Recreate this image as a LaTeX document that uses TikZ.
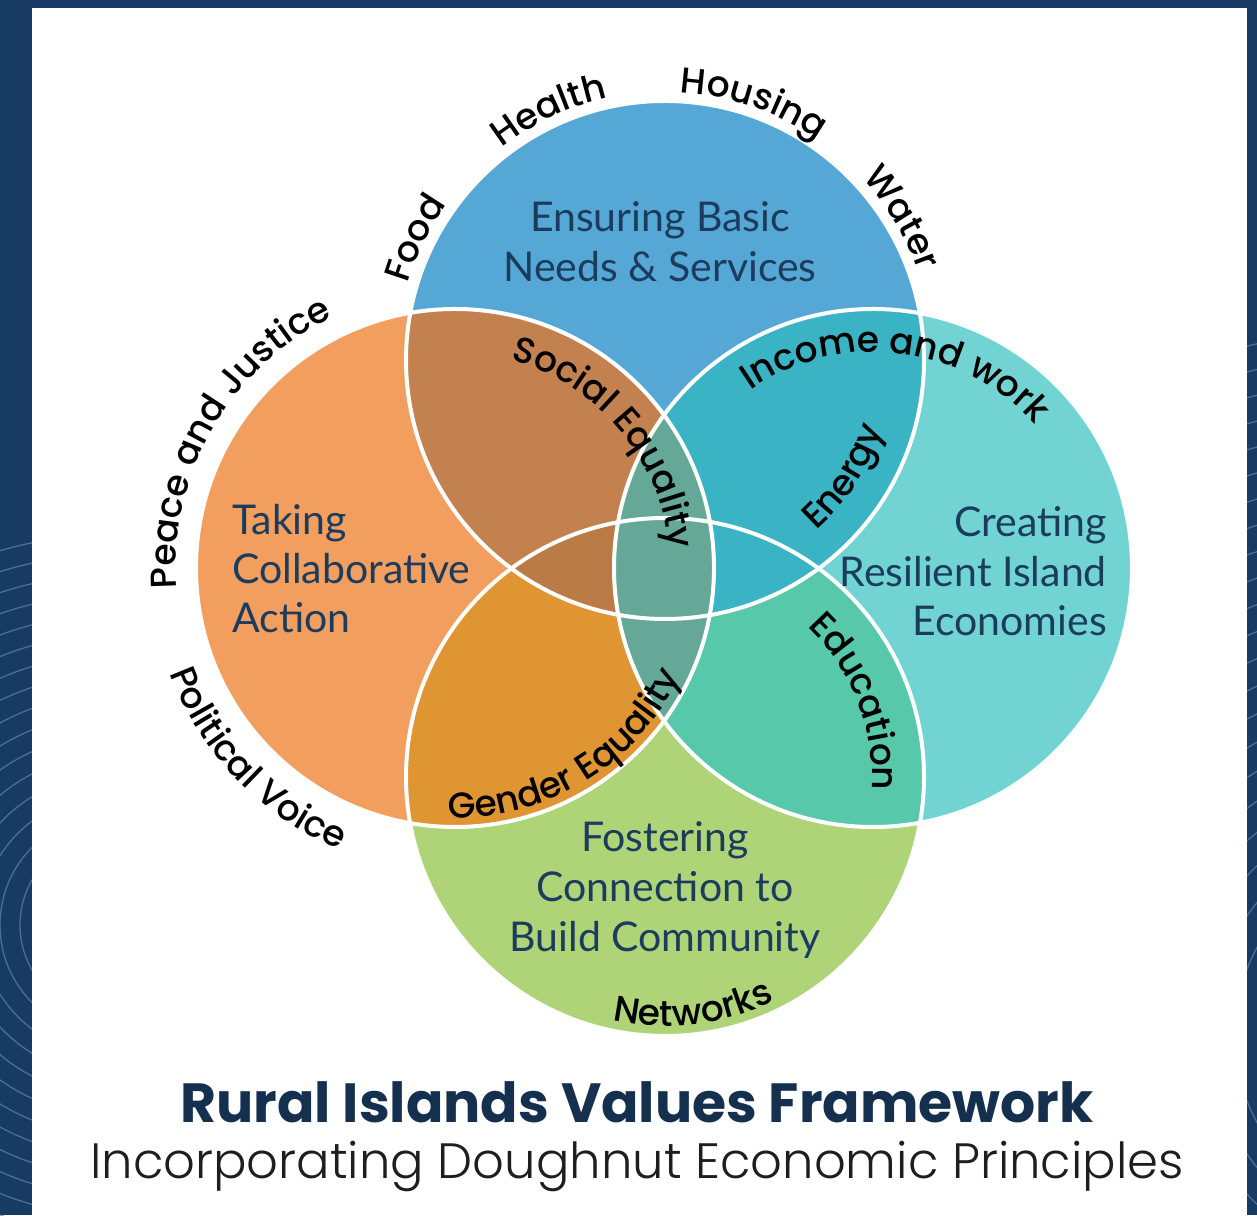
\documentclass[tikz,border=0pt]{standalone}
\usepackage{fontspec}
\setmainfont{Lato}
\newfontfamily\popfam{Poppins}
\newfontfamily\popmed{Poppins Medium}
\newfontfamily\poplight{Poppins Light}
\usetikzlibrary{calc,decorations.text}
\definecolor{navy}{HTML}{173B63}
\definecolor{swirl}{HTML}{5B7BA0}
\definecolor{cT}{HTML}{55A7D5}
\definecolor{cL}{HTML}{F29E5F}
\definecolor{cR}{HTML}{72D4D2}
\definecolor{cB}{HTML}{AED477}
\definecolor{cTL}{HTML}{C2814F}
\definecolor{cTLB}{HTML}{BA7B47}
\definecolor{cTR}{HTML}{3AB3C4}
\definecolor{cLB}{HTML}{DF9532}
\definecolor{cRB}{HTML}{58C8AB}
\definecolor{cLR}{HTML}{66A898}
\definecolor{ink}{HTML}{1C3C5E}
\definecolor{titleink}{HTML}{14304E}
\definecolor{subink}{HTML}{1E1E1E}
\newcommand{\curvefont}{\popmed\fontsize{36}{36}\selectfont}
\newcommand{\curvelabel}[5]{%
  \path[decorate, decoration={text along path, text align=center, text={|\curvefont|#5}}]
    ($(#1)+(#3:#2)$) arc[start angle=#3, end angle=#4, radius=#2];}
\tikzset{
  inner/.style={font=\fontsize{41}{41}\selectfont, text=ink, inner sep=0pt},
  rim/.style={draw=white, line width=4pt},
  swirlline/.style={draw=swirl, line width=1.3pt, opacity=0.8}
}
\begin{document}
\begin{tikzpicture}[x=1pt,y=1pt]
\useasboundingbox (0,0) rectangle (1257,1215);
\fill[navy] (0,0) rectangle (1257,1215);
% border swirls
\begin{scope}
  \clip (0,0) rectangle (32,675);
  \foreach \r in {30,50,...,450} \draw[swirlline] (110,290) circle (\r);
\end{scope}
\begin{scope}
  \clip (1247,0) rectangle (1257,875);
  \foreach \r in {160,185,...,1000} \draw[swirlline] (1420,180) circle (\r);
\end{scope}
\fill[white] (32,0) rectangle (1247,1207);
% circle centres
\coordinate (T) at (665,855);
\coordinate (L) at (455,647);
\coordinate (R) at (873,647);
\coordinate (B) at (665,438);
\def\rad{259}
% base fills
\fill[cT] (T) circle (\rad);
\fill[cL] (L) circle (\rad);
\fill[cR] (R) circle (\rad);
\fill[cB] (B) circle (\rad);
% overlaps
\begin{scope}\clip (T) circle (\rad); \fill[cTL] (L) circle (\rad); \end{scope}
\begin{scope}\clip (T) circle (\rad); \fill[cTR] (R) circle (\rad); \end{scope}
\begin{scope}\clip (L) circle (\rad); \fill[cLB] (B) circle (\rad); \end{scope}
\begin{scope}\clip (R) circle (\rad); \fill[cRB] (B) circle (\rad); \end{scope}
\begin{scope}\clip (T) circle (\rad); \clip (L) circle (\rad); \fill[cTLB] (B) circle (\rad); \end{scope}
\begin{scope}\clip (T) circle (\rad); \clip (R) circle (\rad); \fill[cTR] (B) circle (\rad); \end{scope}
\begin{scope}\clip (L) circle (\rad); \fill[cLR] (R) circle (\rad); \end{scope}
% white rims
\draw[rim] (T) circle (\rad);
\draw[rim] (L) circle (\rad);
\draw[rim] (R) circle (\rad);
\draw[rim] (B) circle (\rad);
% inner texts
\node[inner, anchor=base] (t1) at (660,983) {Ensuring Basic};
\node[inner, anchor=base] (t2) at (660,933) {Needs \& Services};
\node[inner, anchor=base west] (l1) at (232,680) {Taking};
\node[inner, anchor=base west] (l2) at (232,631) {Collaborative};
\node[inner, anchor=base west] (l3) at (232,582) {Action};
\node[inner, anchor=base east] (r1) at (1107,678) {Creating};
\node[inner, anchor=base east] (r2) at (1107,628) {Resilient Island};
\node[inner, anchor=base east] (r3) at (1107,579) {Economies};
\node[inner, anchor=base] (b1) at (665,363) {Fostering};
\node[inner, anchor=base] (b2) at (665,313) {Connection to};
\node[inner, anchor=base] (b3) at (665,263) {Build Community};
% curved labels
\curvelabel{T}{268}{189}{119}{Food}
\curvelabel{T}{268}{150}{80}{Health}
\curvelabel{T}{268}{106}{36}{Housing}
\curvelabel{T}{268}{66}{-4}{Water}
\curvelabel{L}{279}{205}{95}{Peace and Justice}
\curvelabel{L}{304}{174}{274}{Political Voice}
\curvelabel{L}{250}{251}{352}{Gender Equality}
\curvelabel{L}{215}{92}{-12}{Social Equality}
\curvelabel{R}{216}{134}{32}{Income and work}
\curvelabel{T}{228}{297}{357}{Energy}
\curvelabel{B}{207}{72}{-29}{Education}
\curvelabel{B}{249}{237}{317}{Networks}
% title
\node[anchor=base, text=titleink, inner sep=0pt] (title) at (637,93)
  {\resizebox{913pt}{!}{\popfam\bfseries Rural Islands Values Framework}};
\node[anchor=base, text=subink, inner sep=0pt] (subtitle) at (637,37)
  {\resizebox{1093pt}{!}{\poplight Incorporating Doughnut Economic Principles}};
\end{tikzpicture}
\end{document}
